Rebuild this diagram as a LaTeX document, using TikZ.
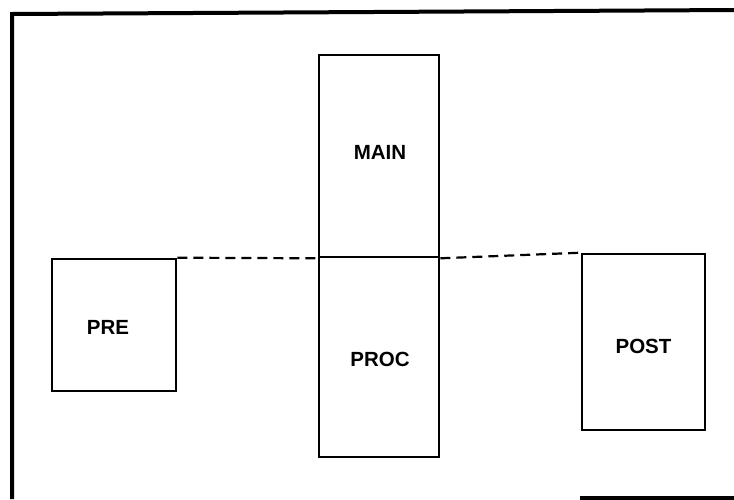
\documentclass[tikz,border=0pt]{standalone}
\usepackage{fontspec}
\setmainfont{Liberation Sans}
\begin{document}
\begin{tikzpicture}[x=1pt,y=-1pt,
  boxstyle/.style={draw, line width=2.6pt, rectangle, inner sep=0pt},
  txtstyle/.style={font=\fontsize{20.5}{24}\selectfont\bfseries, inner sep=0pt},
  framestyle/.style={line width=4pt},
  dashstyle/.style={line width=2.2pt, dash pattern=on 10pt off 6pt}]
\useasboundingbox (0,0) rectangle (734,499);
% frame
\coordinate (ftl) at (12,14);
\coordinate (ftr) at (734,10);
\coordinate (fbl) at (12,499);
\coordinate (fbs) at (580,498);
\coordinate (fbe) at (734,498);
\draw[framestyle] (fbl) -- (ftl) -- (ftr);
\draw[framestyle] (fbs) -- (fbe);
% boxes
\node[boxstyle, minimum width=124pt, minimum height=132pt,
  label={[txtstyle, xshift=-6pt, yshift=-2pt]center:PRE}] (pre) at (114,325) {};
\node[boxstyle, minimum width=120pt, minimum height=202pt,
  label={[txtstyle, xshift=1pt, yshift=4pt]center:MAIN}] (main) at (379,156) {};
\node[boxstyle, minimum width=120pt, minimum height=200pt,
  label={[txtstyle, xshift=1pt, yshift=-2pt]center:PROC}] (proc) at (379,357) {};
\node[boxstyle, minimum width=123pt, minimum height=176pt,
  label={[txtstyle, yshift=-4pt]center:POST}] (post) at (643.5,342) {};
% dashed connectors
\draw[dashstyle] (pre.north east) -- (main.south west);
\draw[dashstyle] (main.south east) -- (post.north west);
\end{tikzpicture}
\end{document}
